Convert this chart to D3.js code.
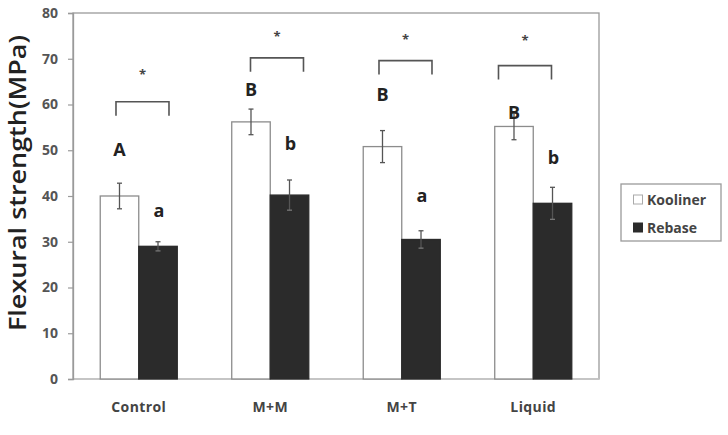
<!DOCTYPE html>
<html>
<head>
<meta charset="utf-8">
<script src="https://cdn.jsdelivr.net/npm/d3@7"></script>
<style>
  body { margin: 0; background: #fff; }
  svg text { font-family: "Open Sans", "DejaVu Sans", sans-serif; }
</style>
</head>
<body>
<div id="chart"></div>
<script>
const groups   = ["Control", "M+M", "M+T", "Liquid"];
const series   = ["Kooliner", "Rebase"];
const kooliner = [40.0, 56.2, 50.8, 55.2];
const koolErr  = [2.8, 2.8, 3.5, 2.9];
const rebase   = [29.0, 40.2, 30.5, 38.4];
const rebErr   = [1.0, 3.3, 1.9, 3.5];
// letters of the post-hoc groups and the heights (MPa) they sit at
const koolLetter = ["A", "B", "B", "B"];
const koolLetterY = [50.3, 63.3, 62.3, 58.4];
const rebLetter  = ["a", "b", "a", "b"];
const rebLetterY = [37.0, 51.6, 40.3, 48.6];
// significance brackets: top level and asterisk level (MPa)
const bracketY = [60.6, 70.2, 69.6, 68.5];
const starY    = [66.8, 75.2, 74.6, 74.3];
const yTicks   = [0, 10, 20, 30, 40, 50, 60, 70, 80];

const W = 728, H = 435;
const m = {left: 73, right: 129, top: 13, bottom: 56};
const bracketShift = [0, 3, 0, -12];

const svg = d3.select("#chart").append("svg")
  .attr("width", W).attr("height", H);

const x = d3.scaleBand().domain(groups).range([m.left, W - m.right]);
const xs = d3.scaleBand().domain(series).range([0, x.bandwidth()]).paddingInner(0).paddingOuter(0.707);
const y = d3.scaleLinear().domain([0, 80]).range([H - m.bottom, m.top]);

// frame
svg.append("rect")
  .attr("x", m.left).attr("y", m.top)
  .attr("width", W - m.left - m.right).attr("height", H - m.top - m.bottom)
  .attr("fill", "none").attr("stroke", "#9a9a9a").attr("stroke-width", 1.3);
svg.append("line")
  .attr("x1", m.left).attr("x2", W - m.right)
  .attr("y1", y(0)).attr("y2", y(0))
  .attr("stroke", "#c8c8c8").attr("stroke-width", 1.5);

// y axis
const yAxis = svg.append("g")
  .attr("transform", `translate(${m.left},0)`)
  .call(d3.axisLeft(y).tickValues(yTicks).tickSize(5).tickPadding(10));
yAxis.select(".domain").attr("stroke", "#9a9a9a").attr("stroke-width", 1.3);
yAxis.selectAll(".tick line").attr("stroke", "#9a9a9a").attr("stroke-width", 1.2);
yAxis.selectAll(".tick text")
  .attr("fill", "#555").attr("font-size", 14).attr("font-weight", 700)
  .style("font-family", '"Open Sans", sans-serif');

svg.append("text")
  .attr("transform", `translate(26 ${(y(0) + y(80)) / 2 - 13}) rotate(-90)`)
  .attr("text-anchor", "middle")
  .attr("fill", "#222").attr("font-size", 24).attr("font-weight", 600)
  .attr("textLength", 296).attr("lengthAdjust", "spacingAndGlyphs")
  .text("Flexural strength(MPa)");

// x labels
svg.append("g").selectAll("text")
  .data(groups)
  .join("text")
    .attr("x", d => x(d) + x.bandwidth() / 2)
    .attr("y", y(0) + 33)
    .attr("text-anchor", "middle")
    .attr("fill", "#444").attr("font-size", 14).attr("font-weight", 700)
    .attr("letter-spacing", 0.4)
    .text(d => d);

const rows = groups.map((g, i) => ({
  g, i,
  bars: [
    {s: "Kooliner", v: kooliner[i], e: koolErr[i], lab: koolLetter[i], ly: koolLetterY[i]},
    {s: "Rebase",   v: rebase[i],   e: rebErr[i],  lab: rebLetter[i],  ly: rebLetterY[i]}
  ]
}));

const gG = svg.append("g").selectAll("g")
  .data(rows)
  .join("g")
    .attr("transform", d => `translate(${x(d.g)},0)`);

const bar = gG.selectAll("g.bar")
  .data(d => d.bars)
  .join("g").attr("class", "bar");

bar.append("rect")
  .attr("x", d => xs(d.s))
  .attr("y", d => y(d.v))
  .attr("width", xs.bandwidth())
  .attr("height", d => y(0) - y(d.v))
  .attr("fill", d => d.s === "Kooliner" ? "#fff" : "#2b2b2b")
  .attr("stroke", d => d.s === "Kooliner" ? "#8c8c8c" : "#2b2b2b")
  .attr("stroke-width", 1.3);

const cx = d => xs(d.s) + xs.bandwidth() / 2;
bar.append("line")
  .attr("x1", cx).attr("x2", cx)
  .attr("y1", d => y(d.v + d.e)).attr("y2", d => y(d.v - d.e))
  .attr("stroke", "#555").attr("stroke-width", 1.3);
bar.append("line")
  .attr("x1", d => cx(d) - 2.5).attr("x2", d => cx(d) + 2.5)
  .attr("y1", d => y(d.v + d.e)).attr("y2", d => y(d.v + d.e))
  .attr("stroke", "#555").attr("stroke-width", 1.3);
bar.append("line")
  .attr("x1", d => cx(d) - 2.5).attr("x2", d => cx(d) + 2.5)
  .attr("y1", d => y(d.v - d.e)).attr("y2", d => y(d.v - d.e))
  .attr("stroke", d => d.s === "Kooliner" ? "#555" : "#777").attr("stroke-width", 1.3);

bar.append("text")
  .attr("x", d => cx(d) + (d.s === "Kooliner" ? 0 : 1))
  .attr("y", d => y(d.ly) + 7)
  .attr("text-anchor", "middle")
  .attr("fill", "#222").attr("font-size", 18).attr("font-weight", 700)
  .text(d => d.lab);

// significance brackets
const bx0 = d => xs("Kooliner") + xs.bandwidth() / 2 - 3.5 + bracketShift[d.i];
const bx1 = d => bx0(d) + 53;
gG.append("path")
  .attr("d", d => `M${bx0(d)},${y(bracketY[d.i]) + 14}V${y(bracketY[d.i])}H${bx1(d)}V${y(bracketY[d.i]) + 14}`)
  .attr("fill", "none").attr("stroke", "#555").attr("stroke-width", 1.6);
gG.append("text")
  .attr("x", d => (bx0(d) + bx1(d)) / 2)
  .attr("y", d => y(starY[d.i]) + 6)
  .attr("text-anchor", "middle")
  .attr("fill", "#444").attr("font-size", 13).attr("font-weight", 700)
  .text("*");

// legend
const lg = svg.append("g").attr("transform", "translate(621,184)");
lg.append("rect")
  .attr("width", 100).attr("height", 57)
  .attr("fill", "#fff").attr("stroke", "#9a9a9a").attr("stroke-width", 1.3);
const li = lg.selectAll("g.item")
  .data(series)
  .join("g").attr("class", "item")
  .attr("transform", (d, i) => `translate(12 ${16 + i * 28})`);
li.append("rect")
  .attr("x", 0.5).attr("y", -5).attr("width", 9).attr("height", 9)
  .attr("fill", d => d === "Kooliner" ? "#fff" : "#2b2b2b")
  .attr("stroke", d => d === "Kooliner" ? "#aaa" : "#2b2b2b");
li.append("text")
  .attr("x", 14).attr("y", 5)
  .attr("fill", "#444").attr("font-size", 14).attr("font-weight", 700)
  .text(d => d);
</script>
</body>
</html>
